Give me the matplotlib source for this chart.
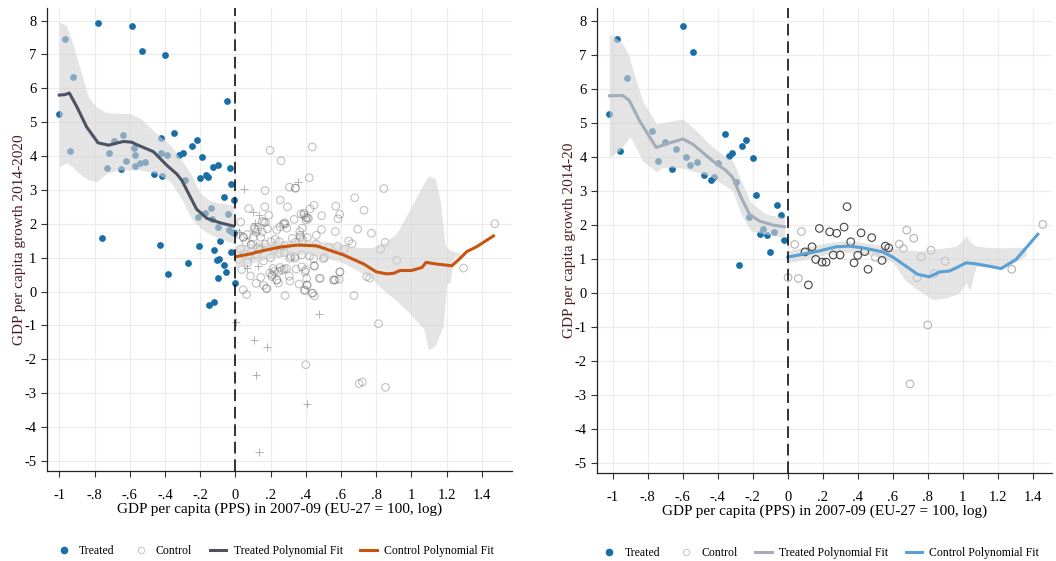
import matplotlib
matplotlib.use("Agg")
import matplotlib.pyplot as plt
from matplotlib.lines import Line2D

plt.rcParams['font.family'] = ['Liberation Serif', 'DejaVu Serif']

# ---- left panel: 2014-2020 ----
treated_x = [-1.00, -0.97, -0.94, -0.92, -0.78, -0.76, -0.73, -0.72, -0.69, -0.65, -0.64, -0.62,
             -0.585, -0.576, -0.57, -0.57, -0.54, -0.53, -0.515, -0.46, -0.43, -0.42, -0.42, -0.417,
             -0.40, -0.39, -0.38, -0.35, -0.32, -0.30, -0.284, -0.27, -0.244, -0.22, -0.214, -0.204,
             -0.20, -0.19, -0.174, -0.168, -0.153, -0.138, -0.132, -0.125, -0.12, -0.10, -0.097,
             -0.09, -0.105, -0.094, -0.066, -0.064, -0.047, -0.043, -0.038, -0.03, -0.022, -0.022,
             -0.007, -0.018, -0.01, -0.053, -0.097, 0.0, -0.15, -0.123]
treated_y = [5.25, 7.47, 4.16, 6.32, 7.94, 1.58, 3.65, 4.09, 4.45, 3.62, 4.63, 3.84,
             7.83, 4.23, 4.03, 3.70, 3.78, 7.09, 3.83, 3.48, 1.38, 4.53, 4.08, 3.40,
             6.97, 4.02, 0.52, 4.67, 4.04, 4.09, 3.28, 0.83, 4.30, 4.47, 2.19, 1.34,
             3.35, 3.96, 2.32, 3.45, 3.38, 2.48, 2.15, 3.68, 1.24, 3.73, 1.91,
             1.50, 0.92, 0.95, 0.78, 2.80, 5.62, 2.28, 1.82, 3.66, 3.17, 1.18,
             2.69, 1.76, 1.73, 0.59, 0.40, 0.24, -0.40, -0.31]

control_x = [0.197, 0.437, 0.26, 0.42, 0.307, 0.341, 0.169, 0.843, 0.678, 0.731, 0.57, 0.447,
             0.296, 0.167, 0.593, 0.583, 0.49, 0.424, 0.40, 0.373, 0.389, 0.409, 0.334, 0.283,
             0.273, 0.292, 0.254, 0.235, 0.19, 0.161, 0.127, 0.106, 0.118, 0.152, 0.182, 0.366,
             0.381, 0.409, 0.37, 0.46, 0.489, 0.568, 0.695, 0.773, 0.644, 0.663, 0.851, 0.826,
             0.917, 0.58, 0.50, 0.45, 0.40, 0.396, 0.34, 0.31, 0.29, 0.254, 0.265, 0.22,
             0.21, 0.236, 0.245, 0.31, 0.306, 0.362, 0.405, 0.409, 0.392, 0.435, 0.449, 0.477,
             0.483, 0.56, 0.568, 0.593, 0.674, 0.746, 0.763, 0.813, 0.40, 0.703, 0.722, 0.853,
             1.474, 1.296, 0.045, 0.064, 0.118, 0.161, 0.176, 0.144, 0.086, 0.036, 0.045, 0.068,
             0.09, 0.39, 0.415, 0.402, 0.279, 0.152, 0.171, 0.046, 0.112, 0.102, 0.144, 0.226,
             0.25, 0.324, 0.368, 0.383, 0.201, 0.089, 0.05, 0.093, 0.25, 0.277, 0.316, 0.337,
             0.377, 0.422, 0.445, 0.506, 0.195, 0.207, 0.235, 0.214, 0.245, 0.277, 0.345, 0.377,
             0.178, 0.282, 0.396, 0.44, 0.557, 0.59, 0.595, 0.447, 0.406, 0.03, 0.06, 0.13,
             0.17, 0.22, 0.28, 0.34, 0.46, 0.53, 0.62, 0.015, 0.02, 0.07, 0.16, 0.20,
             0.341, 0.12, 0.14, 0.03, 0.075, 0.255]
control_y = [4.17, 4.27, 3.86, 3.36, 3.08, 3.05, 2.98, 3.04, 2.77, 2.40, 2.52, 2.55,
             2.50, 2.50, 2.28, 2.15, 2.24, 2.44, 2.19, 2.29, 2.26, 2.17, 2.13, 1.99,
             1.99, 1.87, 1.91, 1.82, 2.25, 2.04, 1.83, 1.88, 1.75, 1.76, 1.85, 1.77,
             1.87, 1.60, 1.60, 1.66, 1.83, 1.77, 1.84, 1.72, 1.49, 1.41, 1.45, 1.25,
             0.92, 1.33, 0.97, 0.75, 0.64, 0.58, 0.98, 0.98, 0.68, 0.71, 0.63, 0.59,
             0.49, 0.34, 0.25, 0.31, 0.45, 0.22, 0.39, 0.18, 0.04, -0.05, -0.13, 0.39,
             0.39, 0.34, 0.34, 0.58, -0.12, 0.44, 0.40, -0.95, -2.16, -2.72, -2.67, -2.83,
             2.00, 0.69, 0.05, -0.09, 0.24, 0.18, 0.10, 0.42, 0.46, 0.65, 1.60, 1.68,
             1.39, 2.31, 2.16, 2.11, 2.03, 2.07, 2.04, 1.60, 1.84, 1.60, 1.60, 1.54,
             1.47, 1.57, 1.66, 1.52, 1.47, 1.38, 1.11, 1.18, 1.13, 1.15, 1.03, 1.03,
             1.08, 1.05, 0.97, 1.01, 0.54, 0.44, 0.34, 0.68, 0.59, 0.66, 0.66, 0.73,
             0.08, -0.12, 0.03, -0.05, 0.34, 0.36, 0.58, 0.76, 0.20, 1.25, 1.45, 1.30,
             1.40, 1.25, 1.35, 1.45, 1.40, 1.30, 1.25, 1.70, 0.95, 0.85, 0.90, 1.00,
             3.05, 1.10, 1.22, 2.05, 2.45, 2.70]

excluded_x = [0.05, 0.356, 0.099, 0.137, 0.112, 0.12, 0.15, 0.065, 0.13, 0.006, 0.106, 0.178,
              0.12, 0.474, 0.406, 0.136, 0.02, 0.09]
excluded_y = [3.03, 3.22, 2.34, 2.27, 2.03, 1.36, 1.33, 0.70, 0.75, -0.91, -1.44, -1.64,
              -2.47, -0.66, -3.32, -4.75, 1.77, 1.00]

fit_t_x = [-1.0, -0.97, -0.943, -0.90, -0.845, -0.78, -0.72, -0.636, -0.59, -0.566, -0.466,
           -0.39, -0.333, -0.305, -0.22, -0.162, -0.087, -0.01]
fit_t_y = [5.80, 5.81, 5.86, 5.45, 4.86, 4.39, 4.32, 4.43, 4.41, 4.35, 4.13,
           3.73, 3.47, 3.29, 2.43, 2.16, 2.03, 1.93]
ci_t_x = [-1.00, -0.96, -0.93, -0.88, -0.835, -0.79, -0.73, -0.66, -0.60, -0.54, -0.45,
          -0.37, -0.30, -0.25, -0.20, -0.15, -0.10, -0.01]
ci_t_hi = [7.95, 7.86, 7.42, 6.54, 5.75, 5.45, 5.28, 5.26, 5.25, 5.12, 4.67,
           4.33, 3.85, 3.45, 2.90, 2.70, 2.62, 2.55]
ci_t_lo = [3.68, 3.80, 3.70, 3.45, 3.30, 3.24, 3.49, 3.59, 3.59, 3.59, 3.49,
           3.26, 2.68, 2.16, 1.88, 1.70, 1.59, 1.42]

fit_c_x = [0.004, 0.084, 0.16, 0.254, 0.349, 0.46, 0.54, 0.614, 0.73, 0.80, 0.86, 0.90,
           0.936, 1.0, 1.06, 1.083, 1.144, 1.23, 1.277, 1.315, 1.37, 1.466]
fit_c_y = [1.03, 1.11, 1.21, 1.31, 1.37, 1.35, 1.21, 1.08, 0.81, 0.58, 0.52, 0.54,
           0.62, 0.62, 0.71, 0.86, 0.81, 0.76, 0.98, 1.18, 1.32, 1.64]
ci_c_x = [0.0, 0.1, 0.2, 0.3, 0.4, 0.5, 0.6, 0.7, 0.78, 0.85, 0.917, 0.99, 1.07, 1.097,
          1.135, 1.163, 1.18, 1.19, 1.20, 1.22, 1.24, 1.277]
ci_c_hi = [1.35, 1.42, 1.48, 1.52, 1.52, 1.48, 1.40, 1.30, 1.30, 1.45, 1.72, 2.41, 3.19, 3.41,
           3.34, 2.70, 1.90, 1.42, 1.30, 1.23, 1.18, 1.13]
ci_c_lo = [0.72, 0.85, 0.98, 1.08, 1.10, 1.00, 0.88, 0.60, 0.35, 0.00, -0.28, -0.64, -1.10, -1.72,
           -1.60, -1.25, -1.03, -0.50, 0.24, 0.26, 1.03, 1.03]

# ---- right panel: 2014-20 ----
treated2_x = [-1.019, -0.977, -0.958, -0.918, -0.777, -0.739, -0.699, -0.659, -0.64, -0.598,
              -0.579, -0.56, -0.541, -0.52, -0.48, -0.438, -0.423, -0.40, -0.36, -0.337, -0.32,
              -0.297, -0.28, -0.26, -0.238, -0.219, -0.20, -0.179, -0.16, -0.139, -0.118,
              -0.099, -0.08, -0.059, -0.04, -0.019]
treated2_y = [5.25, 7.47, 4.16, 6.31, 4.76, 3.86, 4.43, 3.64, 4.24, 7.83,
              3.99, 3.77, 7.09, 3.83, 3.47, 3.32, 3.39, 3.82, 4.67, 4.03, 4.10,
              3.27, 0.82, 4.30, 4.48, 2.24, 3.97, 2.86, 1.73, 1.88, 1.70,
              1.21, 1.78, 2.59, 2.30, 1.56]

control2_dark_x = [0.339, 0.181, 0.24, 0.28, 0.322, 0.419, 0.48, 0.36, 0.139, 0.099, 0.44, 0.26,
                   0.299, 0.40, 0.16, 0.196, 0.219, 0.539, 0.379, 0.459, 0.558, 0.577, 0.118]
control2_dark_y = [2.53, 1.89, 1.79, 1.75, 1.93, 1.76, 1.62, 1.50, 1.35, 1.20, 1.21, 1.11,
                   1.11, 1.10, 0.98, 0.90, 0.90, 0.95, 0.88, 0.69, 1.37, 1.32, 0.23]
control2_light_x = [0.078, 0.04, 0.002, 0.061, 0.68, 0.72, 0.638, 0.661, 0.501, 0.762, 0.819,
                    0.899, 0.739, 0.838, 0.80, 0.699, 1.28, 1.457]
control2_light_y = [1.80, 1.42, 0.45, 0.42, 1.84, 1.60, 1.43, 1.30, 1.04, 1.05, 1.25,
                    0.93, 0.44, 0.56, -0.95, -2.68, 0.69, 2.01]

fit2_t_x = [-1.019, -0.943, -0.905, -0.847, -0.752, -0.695, -0.6, -0.543, -0.43, -0.352,
            -0.314, -0.266, -0.219, -0.162, -0.086, -0.019]
fit2_t_y = [5.79, 5.80, 5.65, 5.06, 4.27, 4.37, 4.52, 4.37, 3.88, 3.59,
            3.39, 2.80, 2.31, 2.11, 1.99, 1.94]
ci2_t_x = [-1.02, -0.96, -0.943, -0.905, -0.895, -0.83, -0.75, -0.714, -0.657, -0.60, -0.523,
           -0.447, -0.371, -0.314, -0.266, -0.21, -0.123, -0.019]
ci2_t_hi = [7.62, 7.40, 7.32, 6.95, 6.73, 5.65, 4.96, 5.00, 5.06, 5.11, 4.77,
            4.37, 4.05, 3.88, 3.29, 2.65, 2.31, 2.21]
ci2_t_lo = [3.98, 4.18, 4.30, 4.57, 4.55, 3.88, 3.56, 3.69, 3.69, 3.66, 3.55,
            3.44, 3.19, 3.00, 2.31, 1.82, 1.72, 1.62]

fit2_c_x = [0.0, 0.086, 0.181, 0.276, 0.352, 0.429, 0.543, 0.6, 0.676, 0.743, 0.81, 0.867,
            0.924, 0.962, 1.019, 1.076, 1.152, 1.219, 1.305, 1.362, 1.429]
fit2_c_y = [1.05, 1.13, 1.23, 1.35, 1.37, 1.32, 1.20, 1.05, 0.78, 0.54, 0.47, 0.61,
            0.64, 0.73, 0.88, 0.85, 0.78, 0.71, 0.98, 1.32, 1.72]
ci2_c_x = [0.0, 0.1, 0.2, 0.3, 0.4, 0.5, 0.6, 0.676, 0.752, 0.829, 0.905, 0.962, 0.981, 1.02,
           1.04, 1.076, 1.15, 1.23, 1.30, 1.362]
ci2_c_hi = [1.24, 1.35, 1.45, 1.52, 1.50, 1.42, 1.32, 1.26, 1.23, 1.28, 1.32, 1.37, 1.45, 1.67,
            1.52, 1.37, 1.33, 1.32, 1.33, 1.34]
ci2_c_lo = [0.88, 0.98, 1.10, 1.20, 1.18, 1.08, 0.90, 0.34, 0.05, -0.20, -0.15, -0.05, 0.0, 0.30,
            0.05, 0.78, 0.74, 0.71, 0.90, 1.09]

x_ticks = [-1, -0.8, -0.6, -0.4, -0.2, 0, 0.2, 0.4, 0.6, 0.8, 1, 1.2, 1.4]
x_ticklabels = ['-1', '-.8', '-.6', '-.4', '-.2', '0', '.2', '.4', '.6', '.8', '1', '1.2', '1.4']
y_ticks = list(range(-5, 9))
y_ticklabels = [str(v) for v in y_ticks]

BLUE = '#1a6ea6'
BAND = '#d2d2d2'
XLABEL = 'GDP per capita (PPS) in 2007-09 (EU-27 = 100, log)'


def setup_axes(ax, xlim, ylabel):
    ax.set_xlim(*xlim)
    ax.set_ylim(-5.3, 8.37)
    ax.set_xticks(x_ticks)
    ax.set_xticklabels(x_ticklabels)
    ax.set_yticks(y_ticks)
    ax.set_yticklabels(y_ticklabels)
    ax.tick_params(labelsize=10.5, length=4, width=0.8, color='#333333')
    ax.tick_params(axis='x', pad=9)
    ax.grid(True, color='#ececec', lw=0.8)
    ax.set_axisbelow(True)
    for s in ['top', 'right']:
        ax.spines[s].set_visible(False)
    for s in ['left', 'bottom']:
        ax.spines[s].set_color('#222222')
        ax.spines[s].set_linewidth(0.9)
    ax.set_xlabel(XLABEL, fontsize=11, labelpad=0)
    ax.set_ylabel(ylabel, fontsize=11, color='#4a1c1c', labelpad=-1)
    ax.axvline(0, color='#111111', lw=1.2, dashes=(7, 3.5), zorder=6)


def add_legend(ax, tcol, ccol):
    handles = [
        Line2D([], [], ls='none', marker='o', ms=4.5, color=BLUE),
        Line2D([], [], ls='none', marker='o', ms=4.5, mfc='none', mec='#c8c8c8', mew=0.8),
        Line2D([], [], color=tcol, lw=2.2),
        Line2D([], [], color=ccol, lw=2.2),
    ]
    labels = ['Treated', 'Control', 'Treated Polynomial Fit', 'Control Polynomial Fit']
    ax.legend(handles, labels, loc='upper center', bbox_to_anchor=(0.49, -0.137), ncol=4,
              frameon=False, fontsize=8.5, handlelength=1.4, handletextpad=0.6,
              columnspacing=1.5)


fig = plt.figure(figsize=(10.56, 5.61), dpi=100)
ax1 = fig.add_axes([0.0445, 0.1604, 0.4401, 0.8253])
ax2 = fig.add_axes([0.5653, 0.1568, 0.4309, 0.8289])

# left
ax1.scatter(treated_x, treated_y, s=24, color=BLUE, lw=0, zorder=2)
ax1.scatter(control_x, control_y, s=30, facecolors='none', edgecolors=(0.4, 0.4, 0.4, 0.4),
            linewidths=0.8, zorder=2)
ax1.scatter(excluded_x, excluded_y, s=40, marker='+', color=(0.4, 0.4, 0.4, 0.5),
            linewidths=0.7, zorder=2)
ax1.fill_between(ci_t_x, ci_t_lo, ci_t_hi, color=BAND, alpha=0.6, lw=0, zorder=3)
ax1.fill_between(ci_c_x, ci_c_lo, ci_c_hi, color=BAND, alpha=0.6, lw=0, zorder=3)
ax1.plot(fit_t_x, fit_t_y, color='#4b5362', lw=2.2, zorder=4)
ax1.plot(fit_c_x, fit_c_y, color='#c8550f', lw=2.2, zorder=4)
setup_axes(ax1, (-1.07, 1.57), 'GDP per capita growth 2014-2020')
add_legend(ax1, '#4b5362', '#c8550f')

# right
ax2.scatter(treated2_x, treated2_y, s=24, color=BLUE, lw=0, zorder=2)
ax2.scatter(control2_light_x, control2_light_y, s=30, facecolors='none', edgecolors='#b4b4b4',
            linewidths=0.8, zorder=2)
ax2.fill_between(ci2_t_x, ci2_t_lo, ci2_t_hi, color=BAND, alpha=0.6, lw=0, zorder=3)
ax2.fill_between(ci2_c_x, ci2_c_lo, ci2_c_hi, color=BAND, alpha=0.6, lw=0, zorder=3)
ax2.scatter(control2_dark_x, control2_dark_y, s=30, facecolors='none', edgecolors='#444444',
            linewidths=0.8, zorder=4)
ax2.plot(fit2_t_x, fit2_t_y, color='#a3adba', lw=2.2, zorder=5)
ax2.plot(fit2_c_x, fit2_c_y, color='#5aa0d4', lw=2.2, zorder=5)
setup_axes(ax2, (-1.09, 1.51), 'GDP per capita growth 2014-20')
add_legend(ax2, '#a3adba', '#5aa0d4')

fig.savefig('out.png', dpi=100)
